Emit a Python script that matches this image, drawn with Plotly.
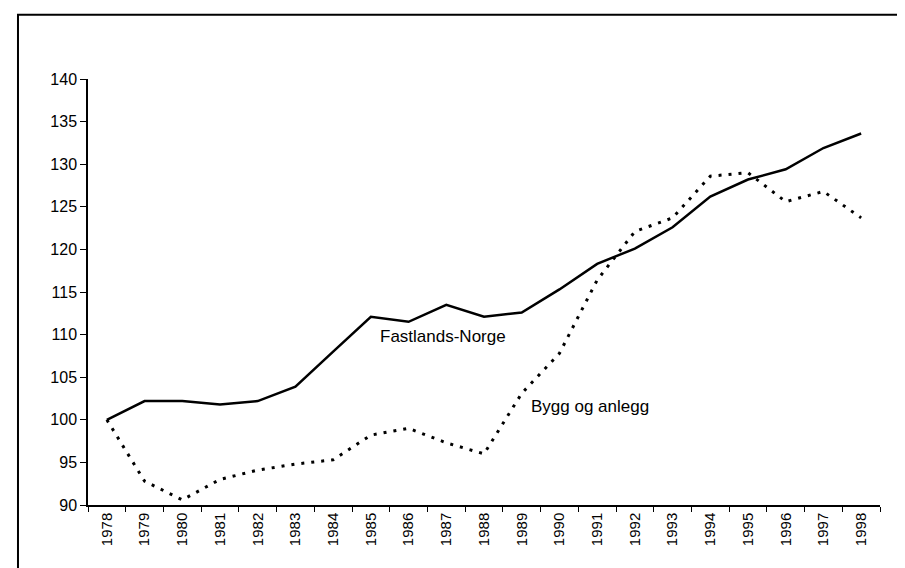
import plotly.graph_objects as go

# Index, 1978 = 100
years = [str(y) for y in range(1978, 1999)]
fastlands_norge = [100.0, 102.2, 102.2, 101.8, 102.2, 103.9, 108.0, 112.1, 111.5, 113.5,
                   112.1, 112.6, 115.3, 118.3, 120.1, 122.6, 126.2, 128.2, 129.4, 131.9, 133.6]
bygg_og_anlegg = [100.0, 92.8, 90.6, 93.0, 94.1, 94.8, 95.3, 98.2, 99.0, 97.3,
                  96.0, 103.1, 107.8, 116.4, 122.1, 123.7, 128.6, 129.0, 125.6, 126.8, 123.7]
y_ticks = list(range(90, 141, 5))

FONT = "Liberation Sans, Arial, sans-serif"

fig = go.Figure()

fig.add_trace(go.Scatter(
    x=years, y=fastlands_norge, mode="lines", name="Fastlands-Norge",
    line=dict(color="black", width=2.5)
))
fig.add_trace(go.Scatter(
    x=years, y=bygg_og_anlegg, mode="lines", name="Bygg og anlegg",
    line=dict(color="black", width=3, dash="3px,7px")
))

# series labels placed on the plot
fig.add_annotation(x=8.92, y=109.8, text="Fastlands-Norge", showarrow=False,
                   font=dict(family=FONT, size=17, color="black"))
fig.add_annotation(x=12.81, y=101.6, text="Bygg og anlegg", showarrow=False,
                   font=dict(family=FONT, size=17, color="black"))

# outer frame (scan border, cropped at right and bottom)
fig.add_shape(type="rect", xref="paper", yref="paper",
              x0=-0.0884, x1=1.2, y0=-0.3, y1=1.151,
              line=dict(color="black", width=2))

fig.update_xaxes(
    type="category", range=[-0.5, 20.5],
    showline=True, linecolor="black", linewidth=1.5,
    ticks="outside", tickson="boundaries", ticklen=5, tickcolor="black",
    tickangle=-90, showgrid=False, zeroline=False,
    tickfont=dict(family=FONT, size=15, color="black")
)
fig.update_yaxes(
    range=[90, 140], tickvals=y_ticks,
    showline=True, linecolor="black", linewidth=1.5,
    ticks="outside", ticklen=6, tickcolor="black",
    showgrid=False, zeroline=False,
    tickfont=dict(family=FONT, size=16, color="black")
)

fig.update_layout(
    width=905, height=568,
    margin=dict(l=80, r=33, t=71, b=71),
    plot_bgcolor="white", paper_bgcolor="white",
    showlegend=False
)

fig.write_html("out.html")
